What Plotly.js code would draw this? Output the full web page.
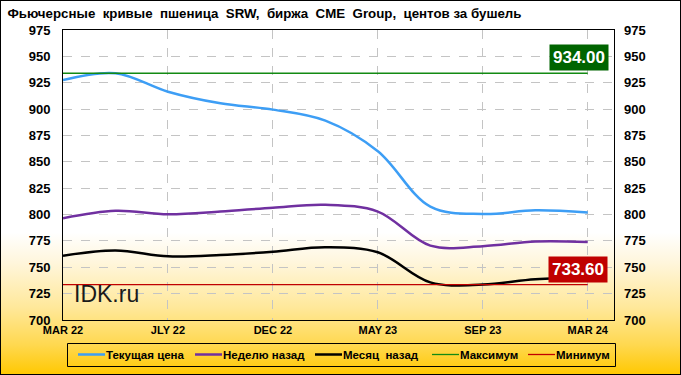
<!DOCTYPE html>
<html>
<head>
<meta charset="utf-8">
<script src="https://cdn.plot.ly/plotly-3.0.1.min.js"></script>
<style>
  html, body { margin: 0; padding: 0; }
  #wrap { position: relative; width: 681px; height: 375px;
    background: linear-gradient(to bottom, #ffffff 0%, #ffffff 62%, #fff6dc 70%, #ffe89a 82%, #ffd84f 92%, #ffc800 100%); }
  #chart { position: absolute; left: 0; top: 0; width: 681px; height: 375px; }
  #frame { position: absolute; left: 0; top: 0; width: 681px; height: 375px; box-sizing: border-box;
    border: 1px solid #000; pointer-events: none; }
</style>
</head>
<body>
<div id="wrap"><div id="chart"></div><div id="frame"></div></div>
<script>
const titleText = "Фьючерсные  кривые  пшеница  SRW,  биржа  CME  Group,  центов за бушель";
const categories = ['MAR 22','MAY 22','JLY 22','SEP 22','DEC 22','MAR 23','MAY 23','JLY 23','SEP 23','DEC 23','MAR 24'];
const xTickLabels = ['MAR 22','JLY 22','DEC 22','MAY 23','SEP 23','MAR 24'];
const currentPrice = [927.5, 934.0, 916.5, 905.5, 899.5, 889.0, 860.0, 807.5, 800.5, 804.0, 802.0];
const weekAgo     = [796.5, 803.5, 800.2, 802.8, 806.5, 809.3, 802.8, 770.5, 770.0, 774.5, 774.0];
const monthAgo    = [761.0, 766.0, 760.4, 761.6, 764.8, 769.0, 764.2, 735.7, 733.6, 738.6, 740.0];
const seriesNames = ['Текущая цена', 'Неделю назад', 'Месяц  назад', 'Максимум', 'Минимум'];
const seriesColors = ['#3d9ef5', '#7030a0', '#000000', '#138a13', '#c00000'];
const yTicks = [700, 725, 750, 775, 800, 825, 850, 875, 900, 925, 950, 975];

const allVals = currentPrice.concat(weekAgo, monthAgo);
const maxVal = Math.max(...allVals);
const minVal = Math.min(...allVals);
const maxLine = categories.map(() => maxVal);
const minLine = categories.map(() => minVal);

const FONT = 'Liberation Sans, Arial, sans-serif';
const W = 681, H = 375, ML = 63, MR = 67, MT = 30, MB = 55;
const PW = W - ML - MR, PH = H - MT - MB;
const px2x = p => (p - ML) / PW;
const px2y = p => (H - MB - p) / PH;

const seriesY = [currentPrice, weekAgo, monthAgo, maxLine, minLine];
const seriesWidth = [2.5, 2.5, 2.5, 1.3, 1.3];
const traces = seriesY.map((ys, i) => ({
  x: categories, y: ys, name: seriesNames[i], mode: 'lines', showlegend: false,
  line: i < 3 ? {color: seriesColors[i], width: seriesWidth[i], shape: 'spline', smoothing: 1}
               : {color: seriesColors[i], width: seriesWidth[i]}
}));
traces.push({x: categories, y: maxLine, yaxis: 'y2', mode: 'lines', line: {color: 'rgba(0,0,0,0)', width: 0}, showlegend: false, hoverinfo: 'skip'});

// hand-made legend (one row, like the reference)
const legLineStart = [78, 195, 315, 432, 528];
const legLineLen = 27;
const legY = 354.5;
const shapes = [{type: 'rect', xref: 'paper', yref: 'paper', x0: px2x(67.5), x1: px2x(615.5), y0: px2y(343.5), y1: px2y(366.5),
  line: {color: '#000', width: 1}, fillcolor: 'rgba(0,0,0,0)'}];
const legAnn = [];
seriesNames.forEach((nm, i) => {
  shapes.push({type: 'line', xref: 'paper', yref: 'paper', x0: px2x(legLineStart[i]), x1: px2x(legLineStart[i] + legLineLen),
    y0: px2y(legY), y1: px2y(legY), line: {color: seriesColors[i], width: i < 3 ? 2.5 : 1.3}});
  legAnn.push({xref: 'paper', yref: 'paper', x: px2x(legLineStart[i] + legLineLen), y: px2y(legY), text: nm,
    showarrow: false, xanchor: 'left', yanchor: 'middle', borderpad: 0,
    font: {family: FONT, size: 11.5, color: '#000', weight: 'bold'}});
});

const yCommon = {
  range: [700, 975], tickmode: 'array', tickvals: yTicks, ticktext: yTicks.map(String),
  tickfont: {family: FONT, size: 13, color: '#000', weight: 'bold'},
  ticks: '', ticklabelstandoff: 9, zeroline: false
};

const layout = {
  width: W, height: H,
  paper_bgcolor: 'rgba(0,0,0,0)', plot_bgcolor: 'rgba(0,0,0,0)',
  margin: {l: ML, r: MR, t: MT, b: MB, autoexpand: false},
  font: {family: FONT, color: '#000'},
  showlegend: false,
  title: {text: titleText, x: 0.011, xanchor: 'left', xref: 'container', y: 0.965, yanchor: 'middle', yref: 'container',
    font: {family: FONT, size: 13.3, color: '#000', weight: 'bold'}},
  xaxis: {
    type: 'category', range: [0, 10.5], tickmode: 'array', tickvals: xTickLabels, ticktext: xTickLabels,
    tickfont: {family: FONT, size: 11, color: '#000', weight: 'bold'}, ticks: '',
    showgrid: true, gridcolor: '#c4c4c4', griddash: 'dash', gridwidth: 1,
    showline: true, linecolor: '#000', linewidth: 1, mirror: true, zeroline: false
  },
  yaxis: Object.assign({}, yCommon, {side: 'left', showgrid: true, gridcolor: '#c4c4c4', griddash: 'dash', gridwidth: 1,
    showline: true, linecolor: '#000', linewidth: 1, mirror: true}),
  yaxis2: Object.assign({}, yCommon, {side: 'right', overlaying: 'y', showgrid: false, showline: false}),
  shapes: shapes,
  annotations: [
    {x: categories[categories.length - 1], y: maxVal, xref: 'x', yref: 'y', text: maxVal.toFixed(2),
      showarrow: false, xanchor: 'right', yanchor: 'middle', xshift: 21, yshift: 16,
      bgcolor: '#006400', borderpad: 3, font: {family: FONT, size: 17, color: '#fff', weight: 'bold'}},
    {x: categories[categories.length - 1], y: minVal, xref: 'x', yref: 'y', text: minVal.toFixed(2),
      showarrow: false, xanchor: 'right', yanchor: 'middle', xshift: 20, yshift: 15,
      bgcolor: '#c00000', borderpad: 3, font: {family: FONT, size: 17, color: '#fff', weight: 'bold'}},
    {x: px2x(72), y: px2y(294), xref: 'paper', yref: 'paper', text: 'IDK.ru', showarrow: false,
      xanchor: 'left', yanchor: 'middle', font: {family: FONT, size: 23, color: '#1a1a1a'}}
  ].concat(legAnn)
};

Plotly.newPlot('chart', traces, layout, {displayModeBar: false, staticPlot: true});
</script>
</body>
</html>
